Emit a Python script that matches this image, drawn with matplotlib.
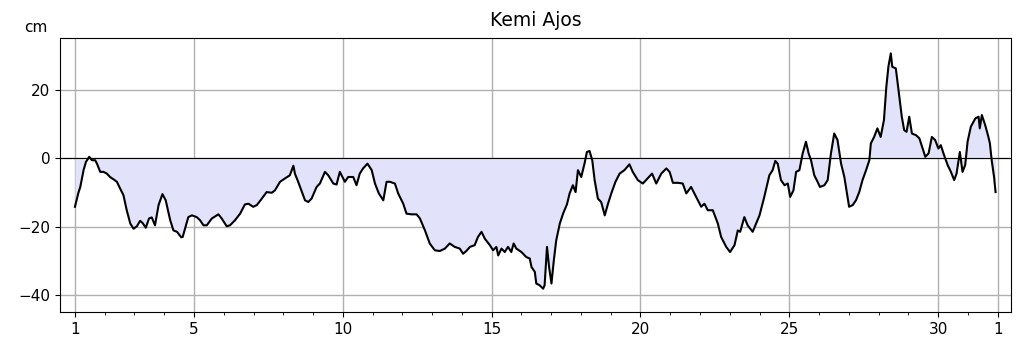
import matplotlib
matplotlib.use("Agg")
import matplotlib.pyplot as plt
import numpy as np

# day of month (fractional) and sea level (cm)
day = [1.00, 1.12, 1.18, 1.29, 1.37, 1.48, 1.57, 1.68, 1.74, 1.85, 1.96, 2.07,
       2.18, 2.30, 2.41, 2.52, 2.63, 2.74, 2.86, 2.97, 3.08, 3.19, 3.27, 3.38,
       3.49, 3.58, 3.69, 3.81, 3.94, 4.05, 4.20, 4.31, 4.43, 4.57, 4.62, 4.81,
       4.93, 5.09, 5.20, 5.32, 5.43, 5.60, 5.71, 5.82, 5.93, 6.10, 6.21, 6.38,
       6.55, 6.71, 6.83, 6.99, 7.11, 7.28, 7.44, 7.61, 7.72, 7.89, 8.06, 8.22,
       8.34, 8.39, 8.50, 8.62, 8.73, 8.84, 8.95, 9.12, 9.23, 9.40, 9.51, 9.68,
       9.79, 9.90, 10.07, 10.18, 10.35, 10.46, 10.57, 10.68, 10.83, 10.97,
       11.08, 11.21, 11.36, 11.47, 11.58, 11.75, 11.86, 12.03, 12.14, 12.31,
       12.48, 12.59, 12.76, 12.92, 13.09, 13.26, 13.43, 13.59, 13.76, 13.93,
       14.04, 14.15, 14.27, 14.43, 14.54, 14.66, 14.77, 14.94, 15.05, 15.16,
       15.22, 15.33, 15.44, 15.55, 15.66, 15.74, 15.83, 16.00, 16.17, 16.28,
       16.34, 16.45, 16.50, 16.61, 16.73, 16.78, 16.86, 16.93, 17.01, 17.09,
       17.17, 17.29, 17.40, 17.53, 17.62, 17.73, 17.82, 17.90, 18.01, 18.12,
       18.20, 18.29, 18.38, 18.46, 18.57, 18.68, 18.80, 18.91, 19.02, 19.16,
       19.30, 19.46, 19.63, 19.74, 19.91, 20.08, 20.24, 20.39, 20.53, 20.70,
       20.87, 20.98, 21.09, 21.26, 21.42, 21.54, 21.70, 21.87, 22.04, 22.15,
       22.26, 22.43, 22.60, 22.71, 22.88, 23.01, 23.16, 23.27, 23.35, 23.49,
       23.60, 23.77, 24.00, 24.16, 24.33, 24.44, 24.53, 24.61, 24.72, 24.84,
       24.95, 25.03, 25.14, 25.23, 25.34, 25.45, 25.56, 25.65, 25.73, 25.84,
       25.95, 26.03, 26.18, 26.29, 26.40, 26.51, 26.62, 26.74, 26.85, 27.01,
       27.13, 27.24, 27.35, 27.46, 27.58, 27.69, 27.74, 27.85, 27.96, 28.07,
       28.18, 28.26, 28.33, 28.41, 28.46, 28.58, 28.67, 28.78, 28.86, 28.94,
       29.03, 29.12, 29.26, 29.37, 29.48, 29.57, 29.68, 29.79, 29.90, 30.01,
       30.09, 30.20, 30.32, 30.43, 30.54, 30.62, 30.73, 30.82, 30.91, 30.99,
       31.10, 31.25, 31.36, 31.40, 31.47, 31.58, 31.69, 31.74, 31.80, 31.88,
       31.93]
level = [-14.2, -10.0, -8.4, -3.5, -1.1, 0.4, -0.6, -0.6, -1.6, -4.0, -4.0, -4.5,
         -5.5, -6.2, -6.9, -8.9, -10.8, -15.2, -19.1, -20.6, -19.9, -18.3, -18.9, -20.3,
         -17.6, -17.3, -19.6, -13.7, -10.5, -12.3, -18.1, -21.1, -21.5, -23.1, -23.0, -17.2,
         -16.7, -17.2, -18.1, -19.6, -19.6, -17.6, -17.0, -16.4, -17.6, -19.9, -19.6, -18.1,
         -16.2, -13.5, -13.3, -14.2, -13.7, -11.8, -9.9, -10.1, -9.4, -6.9, -5.9, -5.0,
         -2.2, -4.5, -6.9, -9.7, -12.3, -12.8, -11.8, -8.4, -7.4, -4.0, -5.0, -7.4,
         -7.7, -4.0, -6.9, -5.5, -5.5, -7.9, -4.5, -3.0, -1.6, -3.5,
         -7.4, -10.3, -12.3, -6.9, -6.9, -7.4, -10.3, -13.3, -16.2, -16.4,
         -16.4, -17.6, -21.1, -24.9, -26.9, -27.1, -26.4, -24.9, -25.9, -26.4,
         -27.9, -27.1, -25.9, -25.4, -23.0, -21.5, -23.5, -25.4, -26.9, -25.9,
         -28.4, -26.4, -27.4, -25.9, -27.4, -24.9, -26.4, -27.4, -28.9, -29.3,
         -31.8, -33.2, -36.6, -37.1, -38.1, -37.1, -25.9, -31.8, -36.6, -29.8,
         -24.0, -19.1, -16.2, -13.5, -10.3, -7.9, -9.9, -3.5, -5.5, -1.6,
         1.8, 2.1, -0.6, -6.4, -11.8, -12.8, -16.7, -13.3, -10.3, -6.9,
         -4.5, -3.5, -1.8, -4.0, -6.4, -7.4, -5.9, -4.5, -7.4, -4.5,
         -3.0, -4.0, -7.2, -7.2, -7.4, -10.3, -8.4, -11.3, -14.2, -13.3,
         -15.2, -15.2, -19.1, -23.0, -25.9, -27.4, -25.4, -21.1, -21.5, -17.2,
         -19.6, -21.5, -16.7, -11.3, -5.0, -3.5, -0.8, -1.6, -6.4, -7.9,
         -7.4, -11.3, -9.4, -4.0, -3.5, 1.4, 4.8, 1.4, -0.6, -5.0,
         -6.9, -8.4, -7.9, -6.4, 1.4, 7.2, 5.3, -1.6, -5.5, -14.2,
         -13.7, -12.3, -9.9, -6.4, -3.5, -0.6, 4.3, 6.2, 8.7, 6.2,
         11.1, 20.8, 26.7, 30.6, 26.7, 26.2, 19.9, 12.1, 8.2, 7.7,
         12.1, 7.2, 6.7, 5.8, 2.8, 0.4, 1.4, 6.2, 5.3, 2.8,
         3.8, 0.9, -2.0, -4.0, -6.4, -4.5, 1.8, -4.0, -2.0, 4.8,
         9.2, 11.6, 12.1, 8.7, 12.6, 9.7, 6.2, 4.3, -0.6, -5.5,
         -9.9]

major_ticks = [1, 5, 10, 15, 20, 25, 30, 32]
major_labels = ["1", "5", "10", "15", "20", "25", "30", "1"]
y_ticks = [-40, -20, 0, 20]

day = np.array(day)
level = np.array(level)

fig = plt.figure(figsize=(10.23, 3.52), dpi=100)
ax = fig.add_axes([0.0587, 0.1128, 0.9296, 0.7784])

ax.fill_between(day, level, 0, color="#e2e2fa", lw=0)
ax.plot(day, level, color="black", lw=1.5, zorder=3)
ax.axhline(0, color="black", lw=0.8, zorder=2)

ax.set_xlim(0.5, 32.45)
ax.set_ylim(-45, 35)
ax.set_xticks(major_ticks)
ax.set_xticklabels(major_labels)
ax.set_xticks(range(1, 33), minor=True)
ax.set_yticks(y_ticks)
ax.tick_params(labelsize=11)
ax.tick_params(which="minor", length=2.5)
ax.grid(True, which="major", color="#b0b0b0", lw=1.0)
ax.set_axisbelow(True)

ax.set_title("Kemi Ajos", fontsize=13.5, pad=9)
ax.text(-0.026, 1.04, "cm", transform=ax.transAxes, ha="center",
        va="center", fontsize=11)

fig.savefig("out.png", dpi=100)
